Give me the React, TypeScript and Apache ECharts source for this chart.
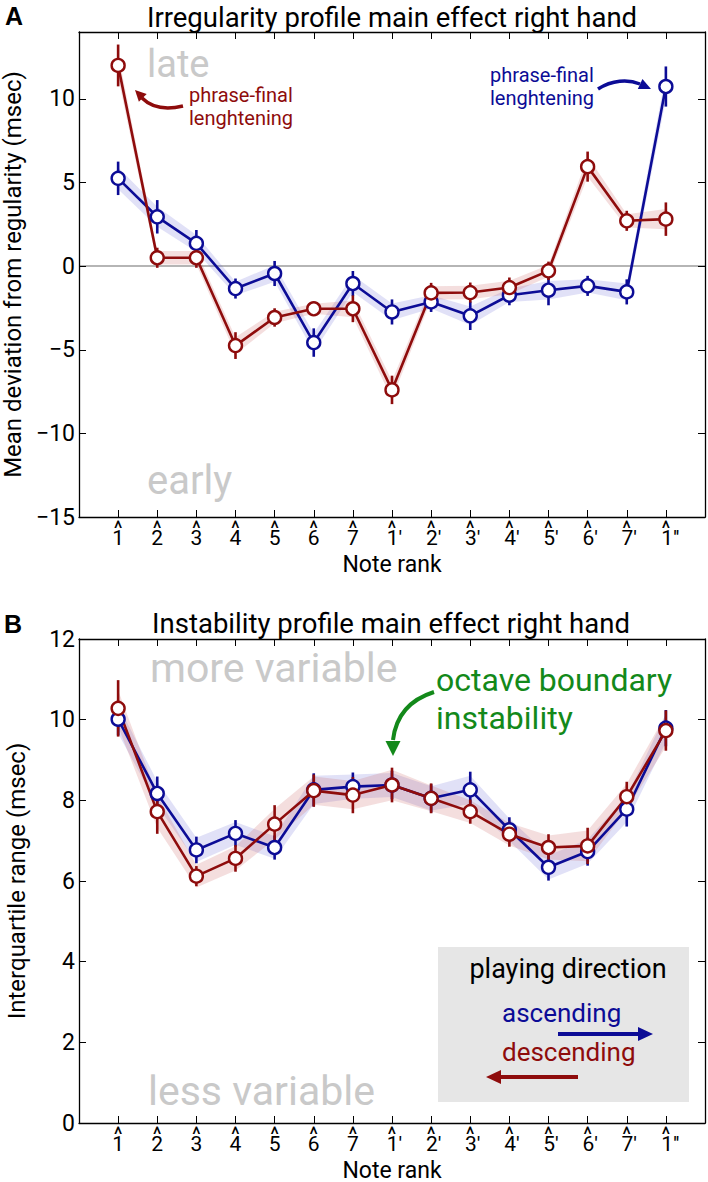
import React, { useEffect, useRef } from "react";
import * as echarts from "echarts";

// ---------- data ----------
const notePositions = [1, 2, 3, 4, 5, 6, 7, 8, 9, 10, 11, 12, 13, 14, 15];
// scale-degree labels; each digit carries a circumflex (drawn as the text "^" above it)
const noteLabels = ["1", "2", "3", "4", "5", "6", "7", "1'", "2'", "3'", "4'", "5'", "6'", "7'", "1''"];
const hatText = "^";

// Panel A: irregularity (mean deviation from regularity, msec)
const ascTop = [5.25, 2.95, 1.36, -1.34, -0.44, -4.57, -1.04, -2.74, -2.14, -2.97, -1.74, -1.44, -1.18, -1.54, 10.74];
const ascTopErr = [1.0, 1.0, 0.8, 0.6, 0.75, 0.85, 0.75, 0.75, 0.6, 0.85, 0.6, 0.9, 0.6, 0.75, 1.2];
const ascTopBand = [0.65, 0.6, 0.5, 0.4, 0.5, 0.55, 0.5, 0.5, 0.4, 0.55, 0.4, 0.55, 0.4, 0.5, 0.75];
const descTop = [12.0, 0.5, 0.5, -4.75, -3.07, -2.55, -2.55, -7.4, -1.6, -1.58, -1.28, -0.28, 5.95, 2.71, 2.81];
const descTopErr = [1.25, 0.6, 0.6, 0.8, 0.55, 0.4, 0.8, 0.85, 0.6, 0.6, 0.6, 0.55, 0.9, 0.6, 1.0];
const descTopBand = [0.7, 0.4, 0.4, 0.5, 0.35, 0.3, 0.5, 0.55, 0.4, 0.4, 0.4, 0.35, 0.6, 0.4, 0.6];
const topTicks = [-15, -10, -5, 0, 5, 10];

// Panel B: instability (interquartile range, msec)
const ascBot = [10.01, 8.17, 6.77, 7.18, 6.83, 8.26, 8.34, 8.38, 8.05, 8.26, 7.27, 6.34, 6.73, 7.78, 9.79];
const ascBotErr = [0.4, 0.42, 0.33, 0.33, 0.3, 0.41, 0.35, 0.35, 0.35, 0.45, 0.31, 0.33, 0.35, 0.43, 0.45];
const ascBotBand = [0.35, 0.3, 0.3, 0.28, 0.28, 0.35, 0.3, 0.3, 0.3, 0.35, 0.28, 0.3, 0.3, 0.32, 0.35];
const descBot = [10.28, 7.72, 6.12, 6.56, 7.41, 8.24, 8.13, 8.38, 8.05, 7.72, 7.16, 6.83, 6.87, 8.09, 9.73];
const descBotErr = [0.7, 0.55, 0.25, 0.33, 0.47, 0.4, 0.45, 0.43, 0.37, 0.3, 0.31, 0.33, 0.45, 0.37, 0.5];
const descBotBand = [0.45, 0.4, 0.28, 0.3, 0.38, 0.35, 0.35, 0.38, 0.32, 0.28, 0.28, 0.3, 0.38, 0.32, 0.4];
const botTicks = [0, 2, 4, 6, 8, 10, 12];

// ---------- styles ----------
const FONT = "Roboto, 'Open Sans', sans-serif";
const RED = "#8e0c0c";
const BLUE = "#0c0c96";
const GREEN = "#13891a";
const GRAY = "#c9c9c9";
const RED_BAND = "rgba(200, 90, 90, 0.2)";
const BLUE_BAND = "rgba(90, 90, 210, 0.18)";

function bandSeries(idx: number, vals: number[], half: number[], fill: string) {
  return {
    type: "custom",
    xAxisIndex: idx * 3,
    yAxisIndex: idx * 2,
    silent: true,
    z: 1,
    data: [[notePositions[0], vals[0]]],
    renderItem: (_p: any, api: any) => {
      const up = notePositions.map((x, i) => api.coord([x, vals[i] + half[i]]));
      const lo = notePositions.map((x, i) => api.coord([x, vals[i] - half[i]])).reverse();
      return { type: "polygon", shape: { points: up.concat(lo) }, style: { fill } };
    },
  };
}

function errSeries(idx: number, vals: number[], err: number[], color: string) {
  return {
    type: "custom",
    xAxisIndex: idx * 3,
    yAxisIndex: idx * 2,
    silent: true,
    z: 2,
    encode: { x: 0, y: [1, 2] },
    data: notePositions.map((x, i) => [x, vals[i] - err[i], vals[i] + err[i]]),
    renderItem: (_p: any, api: any) => {
      const a = api.coord([api.value(0), api.value(1)]);
      const b = api.coord([api.value(0), api.value(2)]);
      return {
        type: "line",
        shape: { x1: a[0], y1: a[1], x2: b[0], y2: b[1] },
        style: { stroke: color, lineWidth: 2.6 },
      };
    },
  };
}

function lineSeries(idx: number, name: string, vals: number[], color: string, extra: any = {}) {
  return {
    type: "line",
    name,
    xAxisIndex: idx * 3,
    yAxisIndex: idx * 2,
    z: 3,
    data: notePositions.map((x, i) => [x, vals[i]]),
    symbol: "circle",
    symbolSize: 13,
    showSymbol: true,
    lineStyle: { color, width: 2.6 },
    itemStyle: { color: "#ffffff", borderColor: color, borderWidth: 2.4 },
    ...extra,
  };
}

const AXIS_LINE = { show: true, onZero: false, lineStyle: { color: "#000", width: 1.3 } };

function noteLabel(v: number) {
  const lab = noteLabels[Math.round(v) - 1];
  if (!lab) return "";
  const primes = lab.length - 1;
  return `{d${primes}|${lab}}`;
}

function xAxes(grid: number) {
  const common = {
    type: "value",
    gridIndex: grid,
    min: 0,
    max: 16,
    splitLine: { show: false },
  };
  const dStyle = { fontFamily: FONT, fontSize: 21, lineHeight: 16, color: "#000" };
  return [
    {
      ...common,
      position: "bottom",
      axisLine: AXIS_LINE,
      name: "Note rank",
      nameLocation: "middle",
      nameGap: 38,
      nameTextStyle: { fontFamily: FONT, fontSize: 23, lineHeight: 18, color: "#000" },
      axisTick: { show: true, inside: true, length: 7, customValues: notePositions, lineStyle: { color: "#000" } },
      axisLabel: {
        show: true,
        customValues: notePositions,
        formatter: noteLabel,
        fontFamily: FONT,
        fontSize: 21,
        lineHeight: 16,
        color: "#000",
        margin: 13,
        rich: {
          d0: { ...dStyle },
          d1: { ...dStyle, padding: [0, 0, 0, 5] },
          d2: { ...dStyle, padding: [0, 0, 0, 9] },
        },
      },
    },
    {
      ...common,
      position: "top",
      axisLine: AXIS_LINE,
      axisTick: { show: true, inside: true, length: 7, customValues: notePositions, lineStyle: { color: "#000" } },
      axisLabel: { show: false },
    },
    {
      // circumflex accents over the note digits
      ...common,
      position: "bottom",
      axisLine: { show: false, onZero: false },
      axisTick: { show: false },
      axisLabel: {
        show: true,
        customValues: notePositions,
        formatter: () => hatText,
        fontFamily: FONT,
        fontSize: 21,
        lineHeight: 5,
        color: "#000",
        margin: 8,
      },
    },
  ];
}

function yAxes(grid: number, min: number, max: number, ticks: number[], name: string, gap: number) {
  const common = {
    type: "value",
    gridIndex: grid,
    min,
    max,
    splitLine: { show: false },
    axisLine: AXIS_LINE,
  };
  return [
    {
      ...common,
      position: "left",
      name,
      nameLocation: "middle",
      nameGap: gap,
      nameTextStyle: { fontFamily: FONT, fontSize: 24, lineHeight: 24, color: "#000" },
      axisTick: { show: true, inside: true, length: 7, customValues: ticks, lineStyle: { color: "#000" } },
      axisLabel: {
        show: true,
        customValues: ticks,
        formatter: (v: number) => (v < 0 ? "\u2212" + Math.abs(v) : String(v)),
        fontFamily: FONT,
        fontSize: 23,
        color: "#000",
        margin: 4,
      },
    },
    {
      ...common,
      position: "right",
      axisTick: { show: true, inside: true, length: 7, customValues: ticks, lineStyle: { color: "#000" } },
      axisLabel: { show: false },
    },
  ];
}

function arrowHead(tipX: number, tipY: number, angleDeg: number, len: number, wid: number, color: string) {
  const a = (angleDeg * Math.PI) / 180;
  const dx = Math.cos(a), dy = Math.sin(a);
  const bx = tipX - dx * len, by = tipY - dy * len;
  const px = -dy, py = dx;
  return {
    type: "polygon",
    shape: { points: [[tipX, tipY], [bx + px * wid / 2, by + py * wid / 2], [bx - px * wid / 2, by - py * wid / 2]] },
    style: { fill: color },
    silent: true,
  };
}

function txt(x: number, y: number, text: string, size: number, color: string, align = "left", extra: any = {}) {
  return {
    type: "text",
    x,
    y,
    silent: true,
    style: { text, fontFamily: FONT, fontSize: size, fill: color, align, verticalAlign: "middle", ...extra },
  };
}

export default function App() {
  const ref = useRef<HTMLDivElement>(null);
  useEffect(() => {
    if (!ref.current) return;
    const chart = echarts.init(ref.current, null, { renderer: "svg" });
    const graphics: any[] = [
      // panel letters & titles
      txt(5, 16, "A", 25, "#000", "left", { fontFamily: "'Liberation Sans', Arial, sans-serif", fontWeight: "bold" }),
      txt(4, 624, "B", 25, "#000", "left", { fontFamily: "'Liberation Sans', Arial, sans-serif", fontWeight: "bold" }),
      txt(392, 17, "Irregularity profile main effect right hand", 27.5, "#000", "center"),
      txt(391, 623, "Instability profile main effect right hand", 27.5, "#000", "center"),
      // background words
      txt(147, 64, "late", 38, GRAY),
      txt(147, 480, "early", 40, GRAY),
      txt(150, 668, "more variable", 41, GRAY),
      txt(148, 1091, "less variable", 41, GRAY),
      // phrase-final annotations
      txt(189, 95, "phrase-final", 20, RED),
      txt(189, 118, "lenghtening", 20, RED),
      txt(490, 75, "phrase-final", 20, BLUE),
      txt(490, 98, "lenghtening", 20, BLUE),
      {
        type: "bezierCurve",
        silent: true,
        shape: { x1: 183, y1: 106, cpx1: 162, cpy1: 111, cpx2: 150, cpy2: 106, x2: 142, y2: 98 },
        style: { stroke: RED, lineWidth: 3.5, fill: null },
      },
      arrowHead(135, 90, 225, 11, 11, RED),
      {
        type: "bezierCurve",
        silent: true,
        shape: { x1: 598, y1: 89, cpx1: 612, cpy1: 80, cpx2: 628, cpy2: 79, x2: 640, y2: 84 },
        style: { stroke: BLUE, lineWidth: 3.5, fill: null },
      },
      arrowHead(651, 89, 25, 12, 11, BLUE),
      // octave boundary
      txt(436, 680, "octave boundary", 32, GREEN),
      txt(436, 718, "instability", 32, GREEN),
      {
        type: "bezierCurve",
        silent: true,
        shape: { x1: 434, y1: 692, cpx1: 412, cpy1: 699, cpx2: 396, cpy2: 714, x2: 393, y2: 740 },
        style: { stroke: GREEN, lineWidth: 4, fill: null },
      },
      arrowHead(393, 756, 90, 15, 15, GREEN),
      // legend box
      { type: "rect", silent: true, shape: { x: 438, y: 947, width: 251, height: 155 }, style: { fill: "#e6e6e6" }, z: -1 },
      txt(568, 969, "playing direction", 27, "#000", "center"),
      txt(502, 1013, "ascending", 26, BLUE),
      txt(502, 1052, "descending", 26, RED),
      { type: "line", silent: true, shape: { x1: 558, y1: 1034, x2: 640, y2: 1034 }, style: { stroke: BLUE, lineWidth: 4 } },
      arrowHead(653, 1034, 0, 15, 14, BLUE),
      { type: "line", silent: true, shape: { x1: 578, y1: 1077, x2: 499, y2: 1077 }, style: { stroke: RED, lineWidth: 4 } },
      arrowHead(486, 1077, 180, 15, 14, RED),
    ];

    chart.setOption({
      animation: false,
      backgroundColor: "#ffffff",
      grid: [
        { left: 79, top: 32, width: 626, height: 485, show: false, outerBoundsMode: "none", containLabel: false },
        { left: 79, top: 639, width: 626, height: 484, show: false, outerBoundsMode: "none", containLabel: false },
      ],
      xAxis: [...xAxes(0), ...xAxes(1)],
      yAxis: [
        ...yAxes(0, -15, 14, topTicks, "Mean deviation from regularity (msec)", 50),
        ...yAxes(1, 0, 12, botTicks, "Interquartile range (msec)", 50),
      ],
      series: [
        bandSeries(0, ascTop, ascTopBand, BLUE_BAND),
        bandSeries(0, descTop, descTopBand, RED_BAND),
        errSeries(0, ascTop, ascTopErr, BLUE),
        lineSeries(0, "ascending", ascTop, BLUE, {
          markLine: {
            silent: true,
            symbol: "none",
            label: { show: false },
            lineStyle: { color: "#b5b5b5", width: 2.2, type: "solid" },
            data: [{ yAxis: 0 }],
            z: 0,
          },
        }),
        errSeries(0, descTop, descTopErr, RED),
        lineSeries(0, "descending", descTop, RED),
        bandSeries(1, ascBot, ascBotBand, BLUE_BAND),
        bandSeries(1, descBot, descBotBand, RED_BAND),
        errSeries(1, ascBot, ascBotErr, BLUE),
        lineSeries(1, "ascending", ascBot, BLUE),
        errSeries(1, descBot, descBotErr, RED),
        lineSeries(1, "descending", descBot, RED),
      ],
      graphic: graphics,
    });
    return () => chart.dispose();
  }, []);
  return (
    <div
      ref={ref}
      style={{ position: "absolute", left: 0, top: 0, width: 708, height: 1182, background: "#fff" }}
    />
  );
}
